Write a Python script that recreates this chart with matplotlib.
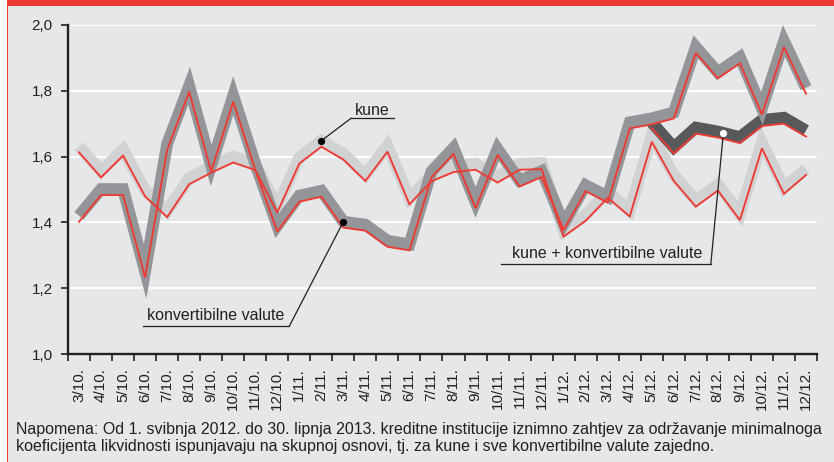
import numpy as np
import matplotlib
matplotlib.use("Agg")
import matplotlib.pyplot as plt
import matplotlib.transforms as mtransforms
from matplotlib.patches import Rectangle
from matplotlib.ticker import FixedLocator, FuncFormatter

plt.rcParams['font.family'] = ['Liberation Sans', 'DejaVu Sans']

# ---------------- data ----------------
months = ['3/10.', '4/10.', '5/10.', '6/10.', '7/10.', '8/10.', '9/10.', '10/10.', '11/10.', '12/10.',
          '1/11.', '2/11.', '3/11.', '4/11.', '5/11.', '6/11.', '7/11.', '8/11.', '9/11.', '10/11.', '11/11.', '12/11.',
          '1/12.', '2/12.', '3/12.', '4/12.', '5/12.', '6/12.', '7/12.', '8/12.', '9/12.', '10/12.', '11/12.', '12/12.']

kune = [1.613, 1.537, 1.603, 1.479, 1.416, 1.516, 1.551, 1.582, 1.559, 1.430,
        1.579, 1.630, 1.591, 1.526, 1.615, 1.455, 1.525, 1.553, 1.560, 1.521, 1.560, 1.562,
        1.357, 1.405, 1.475, 1.418, 1.645, 1.526, 1.448, 1.497, 1.407, 1.625, 1.487, 1.544]

konvertibilne = [1.402, 1.483, 1.483, 1.233, 1.620, 1.797, 1.555, 1.767, 1.560, 1.372,
                 1.463, 1.478, 1.384, 1.375, 1.326, 1.315, 1.537, 1.608, 1.443, 1.605, 1.509, 1.538,
                 1.377, 1.495, 1.460, 1.686, 1.698, 1.716, 1.915, 1.838, 1.884, 1.728, 1.933, 1.791]

ukupno = [None] * 26 + [1.686, 1.610, 1.670, 1.658, 1.641, 1.693, 1.700, 1.661]

y_ticks = [1.0, 1.2, 1.4, 1.6, 1.8, 2.0]

label_kune = 'kune'
label_konv = 'konvertibilne valute'
label_ukupno = 'kune + konvertibilne valute'
note_1 = ('Napomena: Od 1. svibnja 2012. do 30. lipnja 2013. kreditne institucije iznimno zahtjev za '
          'održavanje minimalnoga')
note_2 = 'koeficijenta likvidnosti ispunjavaju na skupnoj osnovi, tj. za kune i sve konvertibilne valute zajedno.'

# ---------------- style ----------------
BG = '#e6e7e8'
RED = '#ee3a33'
LIGHT = '#d1d2d4'
MID = '#939598'
DARK = '#58595b'
TXT = '#231f20'

W, H = 834, 462
fig = plt.figure(figsize=(W / 100, H / 100), dpi=100)
fig.patch.set_facecolor('white')
fig.patches.append(Rectangle((7 / W, 0), 1 - 7 / W, 1, transform=fig.transFigure,
                             facecolor=BG, edgecolor='none', zorder=-10))
fig.patches.append(Rectangle((7 / W, 1 - 6 / H), 1 - 7 / W, 6 / H, transform=fig.transFigure,
                             facecolor=RED, edgecolor='none', zorder=-9))
fig.patches.append(Rectangle((6.5 / W, 0), 1.2 / W, 1, transform=fig.transFigure,
                             facecolor=RED, edgecolor='none', zorder=-9))

left, right = 68 / W, 817 / W
bottom, top = (H - 354) / H, (H - 25) / H
ax = fig.add_axes([left, bottom, right - left, top - bottom])
ax.set_facecolor('none')

x = np.arange(len(months))
k = np.array(kune, dtype=float)
c = np.array(konvertibilne, dtype=float)
u = np.array([np.nan if v is None else v for v in ukupno], dtype=float)

up = mtransforms.offset_copy(ax.transData, fig=fig, x=0, y=6.0, units='dots')

band_lw = 8.5
red_lw = 1.35
ax.plot(x, k, color=LIGHT, lw=band_lw, transform=up, solid_joinstyle='miter',
        solid_capstyle='butt', clip_on=False, zorder=3)
ax.plot(x, u, color=DARK, lw=band_lw, transform=up, solid_joinstyle='miter',
        solid_capstyle='butt', clip_on=False, zorder=4)
ax.plot(x, c, color=MID, lw=band_lw, transform=up, solid_joinstyle='miter',
        solid_capstyle='butt', clip_on=False, zorder=5)
for s in (k, c, u):
    ax.plot(x, s, color=RED, lw=red_lw, solid_joinstyle='miter', clip_on=False, zorder=6)

ax.set_xlim(-0.5, len(months) - 0.5)
ax.set_ylim(1.0, 2.0)

# grid
for yv in y_ticks[1:]:
    ax.axhline(yv, color='white', lw=1.3, zorder=1)

# axes
for sp in ('top', 'right'):
    ax.spines[sp].set_visible(False)
for sp in ('left', 'bottom'):
    ax.spines[sp].set_color(TXT)
    ax.spines[sp].set_linewidth(1.7)
    ax.spines[sp].set_zorder(2)

ax.set_yticks(y_ticks)
ax.yaxis.set_major_formatter(FuncFormatter(lambda v, p: f'{v:.1f}'.replace('.', ',')))
ax.tick_params(axis='y', direction='out', length=5, width=1.2, color=TXT,
               labelsize=11, labelcolor=TXT, pad=6)

ax.set_xticks(x)
ax.set_xticklabels(months, rotation=90, va='top', ha='center')
ax.xaxis.set_minor_locator(FixedLocator(np.arange(-0.5, len(months), 1.0)))
ax.tick_params(axis='x', which='major', length=0, labelsize=11, labelcolor=TXT, pad=10)
ax.tick_params(axis='x', which='minor', direction='out', length=5, width=1.2, color=TXT)

# ---------------- annotations ----------------
ann_lw = 0.9
# kune
ax.plot([11], [k[11]], 'o', color='black', ms=4.2, transform=up, clip_on=False, zorder=8)
ax.plot([12.36, 14.32], [1.717, 1.717], color=TXT, lw=ann_lw, zorder=7)
ax.annotate('', xy=(11, k[11]), xycoords=up, xytext=(12.36, 1.717), textcoords='data',
            arrowprops=dict(arrowstyle='-', lw=ann_lw, color=TXT, shrinkA=0, shrinkB=0), zorder=7)
ax.text(12.5, 1.727, label_kune, fontsize=11.5, color=TXT, va='baseline', ha='left', zorder=8)

# konvertibilne valute
ax.plot([12], [c[12]], 'o', color='black', ms=4.2, transform=up, clip_on=False, zorder=8)
ax.plot([2.91, 9.55], [1.085, 1.085], color=TXT, lw=ann_lw, zorder=7)
ax.annotate('', xy=(12, c[12]), xycoords=up, xytext=(9.55, 1.085), textcoords='data',
            arrowprops=dict(arrowstyle='-', lw=ann_lw, color=TXT, shrinkA=0, shrinkB=0), zorder=7)
ax.text(3.09, 1.103, label_konv, fontsize=11.5, color=TXT, va='baseline', ha='left', zorder=8)

# kune + konvertibilne valute
xd = 29.25
yd = float(np.interp(xd, x[26:], u[26:]))
ax.plot([xd], [yd], 'o', color='white', ms=4.2, transform=up, clip_on=False, zorder=8)
ax.plot([19.17, 28.68], [1.2736, 1.2736], color=TXT, lw=ann_lw, zorder=7)
ax.annotate('', xy=(xd, yd), xycoords=up, xytext=(28.68, 1.2736), textcoords='data',
            arrowprops=dict(arrowstyle='-', lw=ann_lw, color=TXT, shrinkA=0, shrinkB=0), zorder=7)
ax.text(19.64, 1.291, label_ukupno, fontsize=11.5, color=TXT, va='baseline', ha='left', zorder=8)

# note
fig.text(16 / W, (H - 434) / H, note_1, fontsize=11.5, color=TXT, va='baseline', ha='left')
fig.text(16 / W, (H - 450.5) / H, note_2, fontsize=11.5, color=TXT, va='baseline', ha='left')

fig.savefig('out.png', dpi=100, facecolor=fig.get_facecolor())
